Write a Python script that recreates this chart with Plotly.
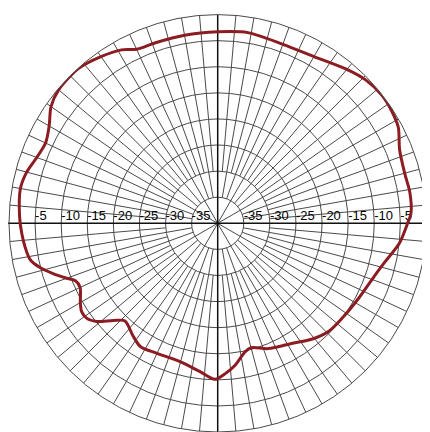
import plotly.graph_objects as go

# ---- data (angle in degrees, clockwise from top; level in dB) ----
angles = [0, 9, 20, 30, 40, 46, 52, 57, 62, 68, 75, 81, 87, 90, 96, 103, 108, 118, 127, 134,
          141, 148, 158, 165, 168, 173, 177, 181, 187, 195, 205, 212, 217, 223.5, 227, 231,
          234, 237, 240, 245, 248, 250, 253, 256, 259, 263, 267, 272, 280, 285, 290, 295,
          300, 305, 310, 318, 325, 331, 335, 341, 350, 360]
levels = [-3.3, -3.0, -3.5, -3.1, -1.5, -0.5, -0.1, -0.3, -0.8, -2.4, -2.9, -2.7, -2.9, -3.6,
          -4.9, -7.1, -8.2, -9.4, -10.0, -10.3, -11.4, -12.9, -14.1, -15.3, -14.8, -12.6,
          -11.2, -10.1, -11.4, -12.5, -12.5, -12.1, -13.0, -14.2, -12.7, -10.1, -9.0, -8.9,
          -9.6, -10.9, -10.6, -9.2, -7.0, -4.9, -3.4, -2.8, -2.4, -2.0, -1.6, -2.1, -3.1,
          -3.6, -2.7, -1.0, -0.2, -0.1, -1.0, -2.0, -3.2, -3.4, -3.4, -3.3]

ring_values = [-35, -30, -25, -20, -15, -10, -5]
ring_labels = ["-35", "-30", "-25", "-20", "-15", "-10", "-5"]
r_min, r_max = -40, 0

grid_col = "#4a4a4a"


def spokes(step, start_r, skip_steps):
    r, t = [], []
    for a in range(0, 360, step):
        if any(a % s == 0 for s in skip_steps):
            continue
        r += [start_r, r_max, None]
        t += [a, a, None]
    return r, t


fig = go.Figure()

# spoke sets (polar chart paper style)
for step, start, skip in [(30, r_min, [90]), (10, -35, [30]), (5, -30, [10])]:
    rr, tt = spokes(step, start, skip)
    fig.add_trace(go.Scatterpolar(r=rr, theta=tt, mode="lines",
                                  line=dict(color=grid_col, width=1),
                                  hoverinfo="skip", showlegend=False))

# main axes
ax_r, ax_t = [], []
for a in [0, 90, 180, 270]:
    ax_r += [r_min, r_max, None]
    ax_t += [a, a, None]
fig.add_trace(go.Scatterpolar(r=ax_r, theta=ax_t, mode="lines",
                              line=dict(color="#111111", width=1.5),
                              hoverinfo="skip", showlegend=False))

# ring labels along the horizontal axis
fig.add_trace(go.Scatterpolar(r=ring_values + ring_values,
                              theta=[270] * len(ring_values) + [90] * len(ring_values),
                              mode="text", text=ring_labels + ring_labels,
                              textposition="top right",
                              textfont=dict(family="Liberation Sans, Arial", size=13, color="#000000"),
                              hoverinfo="skip", showlegend=False))

# pattern curve
fig.add_trace(go.Scatterpolar(r=levels, theta=angles, mode="lines",
                              line=dict(color="#8b1d22", width=3, shape="spline", smoothing=0.8),
                              showlegend=False))

W, H = 430, 432
off = 8  # page body margin offset
cx, cy = 217.7 - off, 223.3 - off
R = 208.7
fig.update_layout(
    width=W, height=H,
    margin=dict(l=0, r=0, t=0, b=0),
    paper_bgcolor="white",
    plot_bgcolor="white",
    showlegend=False,
    shapes=[dict(type="line", xref="paper", yref="paper", x0=0, x1=1,
                 y0=(H - cy) / H, y1=(H - cy) / H,
                 line=dict(color="#111111", width=1.5), layer="below")],
    polar=dict(
        domain=dict(x=[(cx - R) / W, (cx + R) / W], y=[(H - cy - R) / H, (H - cy + R) / H]),
        bgcolor="white",
        radialaxis=dict(range=[r_min, r_max], tickvals=ring_values, showticklabels=False,
                        ticks="", showline=False, showgrid=True,
                        gridcolor=grid_col, gridwidth=1),
        angularaxis=dict(rotation=90, direction="clockwise", showgrid=False,
                         showticklabels=False, ticks="", showline=True,
                         linecolor=grid_col, linewidth=1),
    ),
)

fig.write_html("out.html")
